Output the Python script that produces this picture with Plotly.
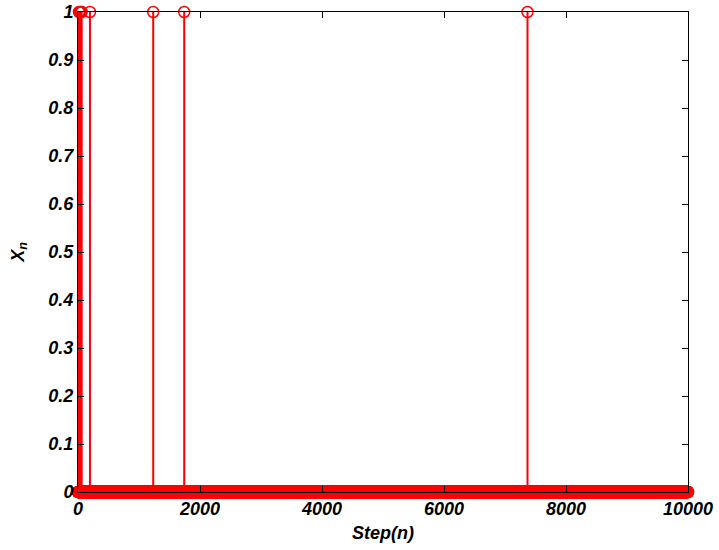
import numpy as np
import plotly.graph_objects as go

# Data: steps where X_n equals 1 (all other steps are 0)
n_max = 10000
spike_steps = [16, 33, 48, 60, 196, 1233, 1741, 7369]
spike_values = [1, 1, 1, 1, 1, 1, 1, 1]
x_ticks = [0, 2000, 4000, 6000, 8000, 10000]
y_ticks = [0, 0.1, 0.2, 0.3, 0.4, 0.5, 0.6, 0.7, 0.8, 0.9, 1]

steps = np.arange(0, n_max + 1)
xn = np.zeros(n_max + 1)
for s, v in zip(spike_steps, spike_values):
    xn[s] = v

# stems (only non-zero values have visible length)
sx, sy = [], []
for s, v in zip(spike_steps, spike_values):
    sx += [s, s, None]
    sy += [0, v, None]

red = "#ff0000"
fnt = dict(family="Liberation Sans, Arial, sans-serif", size=18, color="black",
           weight="bold", style="italic")

fig = go.Figure()
fig.add_trace(go.Scatter(x=sx, y=sy, mode="lines", line=dict(color=red, width=2),
                         hoverinfo="skip", cliponaxis=False))
fig.add_trace(go.Scatter(x=steps, y=xn, mode="markers",
                         marker=dict(symbol="circle-open", size=11, color=red,
                                     line=dict(color=red, width=1.5)),
                         cliponaxis=False))

axis_common = dict(showline=True, linecolor="black", linewidth=1, mirror="ticks",
                   ticks="inside", ticklen=6, tickcolor="black", showgrid=False,
                   zeroline=False, tickfont=fnt, automargin=False)
fig.update_xaxes(range=[0, n_max], tickvals=x_ticks, tickformat="d",
                 title=dict(text="Step(n)", font=fnt, standoff=8), **axis_common)
fig.update_yaxes(range=[0, 1], tickvals=y_ticks,
                 title=dict(text="X<sub>n</sub>", font=fnt, standoff=19), **axis_common)
fig.update_layout(width=719, height=550, showlegend=False,
                  plot_bgcolor="white", paper_bgcolor="white",
                  margin=dict(l=78, r=31, t=12, b=58, autoexpand=False))
# remove the browser's default 8px body margin so the figure fills the window
fig.write_html("out.html", config={"displayModeBar": False},
               post_script="document.body.style.margin='0';document.body.style.overflow='hidden';")
